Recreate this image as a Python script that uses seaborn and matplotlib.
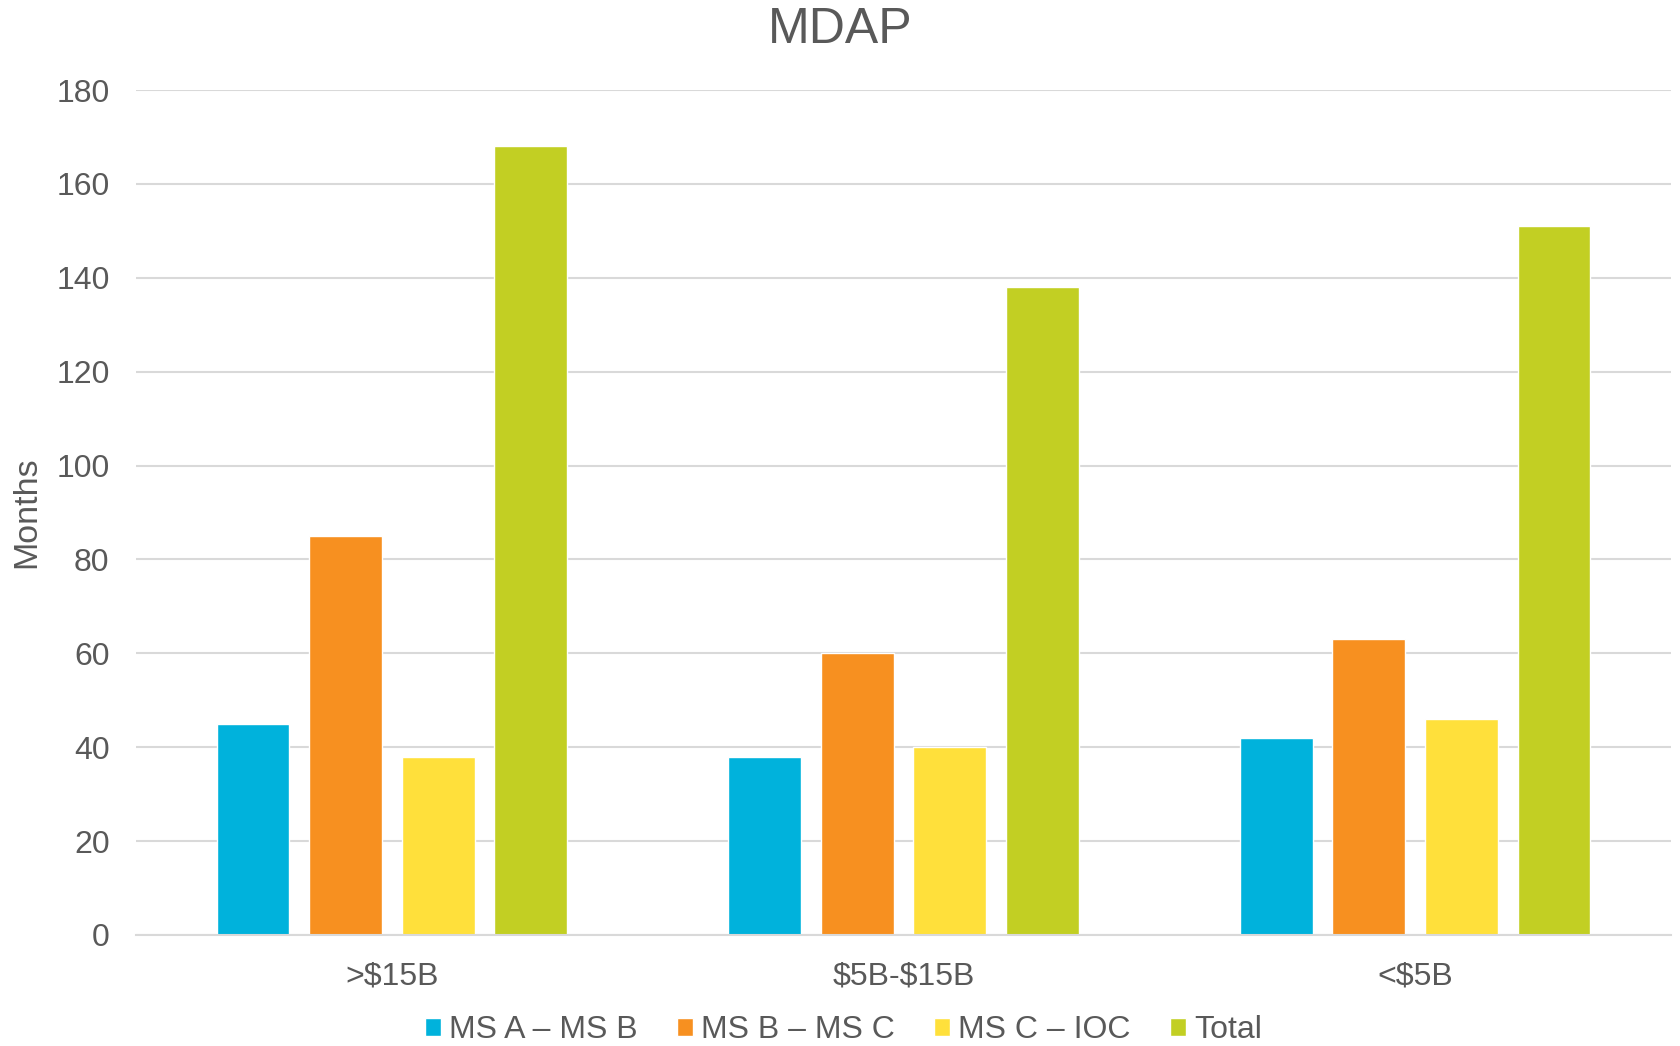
import pandas as pd
import matplotlib.pyplot as plt
import seaborn as sns

# values (months)
categories = ['>\\$15B', '\\$5B-\\$15B', '<\\$5B']
phases = ['MS A \u2013 MS B', 'MS B \u2013 MS C', 'MS C \u2013 IOC', 'Total']
ms_a_ms_b = [45, 38, 42]
ms_b_ms_c = [85, 60, 63]
ms_c_ioc = [38, 40, 46]
total = [168, 138, 151]
colors = ['#00B2DC', '#F79020', '#FFE03B', '#C2CF23']

rows = []
for phase, vals in zip(phases, [ms_a_ms_b, ms_b_ms_c, ms_c_ioc, total]):
    for cat, v in zip(categories, vals):
        rows.append({'Size': cat, 'Phase': phase, 'Months': v})
df = pd.DataFrame(rows)

sns.set_theme(style='white')
plt.rcParams['font.family'] = ['Liberation Sans', 'DejaVu Sans']
text_color = '#595959'

fig = plt.figure(figsize=(16.8, 10.46), dpi=100)
ax = fig.add_axes([136/1680, 1-935/1046, (1671-136)/1680, (935-90)/1046])

sns.barplot(data=df, x='Size', y='Months', hue='Phase', order=categories,
            hue_order=phases, palette=colors, width=0.724, gap=0.214,
            saturation=1, ax=ax, legend=True)

ax.set_ylim(0, 180)
ax.set_yticks(range(0, 181, 20))
ax.set_xlim(-0.5, 2.5)
ax.yaxis.grid(True, color='#D9D9D9', linewidth=1.5)
ax.set_axisbelow(True)
for s in ['left', 'right', 'top']:
    ax.spines[s].set_visible(False)
ax.spines['bottom'].set_color('#D9D9D9')
ax.spines['bottom'].set_linewidth(1.5)
ax.tick_params(axis='y', length=0, pad=19, labelsize=23, labelcolor=text_color)
ax.tick_params(axis='x', length=0, pad=19, labelsize=23, labelcolor=text_color)
ax.set_xlabel('')
ax.set_ylabel('Months', fontsize=24.5, color=text_color, labelpad=10)

fig.suptitle('MDAP', x=0.5, y=1-43/1046, va='baseline', fontsize=36, color=text_color)

handles, labels = ax.get_legend_handles_labels()
ax.get_legend().remove()
leg = fig.legend(handles, labels, loc='center', bbox_to_anchor=(0.502, 0.015),
                 ncol=4, frameon=False, fontsize=23, handlelength=0.5,
                 handleheight=0.5, handletextpad=0.25, columnspacing=1.23,
                 labelcolor=text_color, borderpad=0.1)

fig.savefig('out.png', dpi=100)
